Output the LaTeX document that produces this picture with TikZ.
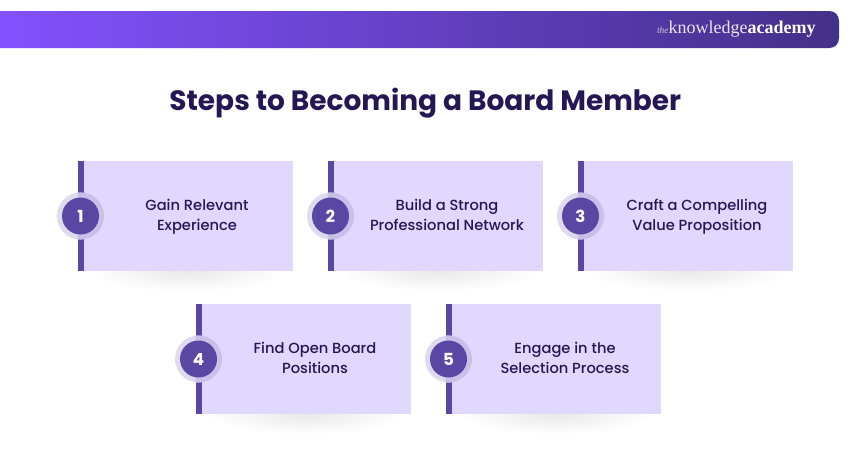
\documentclass[tikz,border=0pt]{standalone}
\usepackage{fontspec}
\setmainfont{Poppins}
\newfontfamily\logofont{Liberation Serif}
\newcommand{\medium}{\fontspec{Poppins Medium}}
\definecolor{bandleft}{RGB}{132,81,255}
\definecolor{bandright}{RGB}{67,48,136}
\definecolor{inktext}{RGB}{35,24,84}
\definecolor{cardfill}{RGB}{224,216,255}
\definecolor{stepcolor}{RGB}{90,70,163}
\definecolor{halofill}{RGB}{200,192,232}
\definecolor{haloedge}{RGB}{222,219,238}
\tikzset{
  every picture/.style={line width=0.75pt},
  cardbox/.style={anchor=north west,fill=cardfill,minimum width=161.25pt,minimum height=82.5pt,inner sep=0pt,outer sep=0pt},
  cardbar/.style={anchor=north west,fill=stepcolor,minimum width=4.5pt,minimum height=82.5pt,inner sep=0pt,outer sep=0pt},
  halodisc/.style={circle,fill=haloedge,minimum size=35.25pt,inner sep=0pt},
  numdisc/.style={circle,fill=stepcolor,text=white,minimum size=27.75pt,inner sep=0pt,font=\fontsize{12.5}{13}\selectfont\bfseries},
  cardtext/.style={align=center,text=inktext,inner sep=0pt,font=\fontsize{11}{15}\selectfont\medium},
  cardshadow/.style={inner color=black!9,outer color=white},
}
\begin{document}
\begin{tikzpicture}[x=0.75pt,y=0.75pt,yscale=-1,xscale=1]
\useasboundingbox (0,0) rectangle (850,450);

%Band
\path [left color=bandleft,right color=bandright] (0,11) -- (829,11) .. controls (835,11) and (839,15) .. (839,21) -- (839,38) .. controls (839,44) and (835,48) .. (829,48) -- (0,48) -- cycle;
\node (logo) [anchor=east,inner sep=0pt,text=white] at (816,29.5) {\logofont{\fontsize{7}{8}\selectfont\itshape\color{white!75!bandright}the}{\fontsize{13.5}{14}\selectfont\color{white!88!bandright}knowledge}{\fontsize{13.5}{14}\selectfont\bfseries academy}};

%Title
\node (title) [text=inktext,inner sep=0pt,font=\fontsize{21}{26}\selectfont\bfseries] at (425.3,103) {Steps to Becoming a Board Member};

%Cards
\foreach \cx/\cy/\num/\first/\second in {
  77.5/161/1/Gain Relevant/Experience,
  327.5/161/2/Build a Strong/Professional Network,
  577.5/161/3/Craft a Compelling/Value Proposition,
  195.5/304/4/Find Open Board/Positions,
  445.5/304/5/Engage in the/Selection Process}{
  \begin{scope}
    \clip (\cx-10,\cy+110) rectangle (\cx+225,\cy+132);
    \shade [cardshadow] (\cx+110,\cy+110) ellipse [x radius=100,y radius=20];
  \end{scope}
  \node (card\num) [cardbox] at (\cx,\cy) {};
  \node (bar\num) [cardbar] at (\cx,\cy) {};
  \node (halo\num) [halodisc] at (\cx+3,\cy+55) {};
  \begin{scope}
    \clip (\cx,\cy) rectangle (\cx+215,\cy+110);
    \fill [halofill] (halo\num.center) circle [radius=23.5];
  \end{scope}
  \node (num\num) [numdisc] at (\cx+3,\cy+55) {\num};
  \node (label\num) [cardtext] at (\cx+119.5,\cy+55) {\strut\first\\\second\strut};
}
\end{tikzpicture}
\end{document}
